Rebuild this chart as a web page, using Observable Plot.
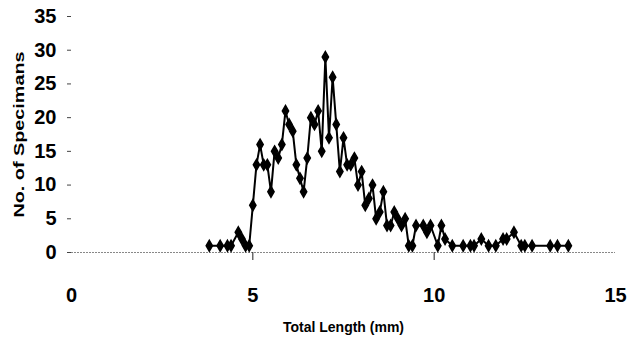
<!DOCTYPE html>
<html>
<head>
<meta charset="utf-8">
<script src="https://cdn.jsdelivr.net/npm/d3@7"></script>
<script src="https://cdn.jsdelivr.net/npm/@observablehq/plot@0.6"></script>
<style>
  html, body { margin: 0; padding: 0; background: #fff; }
  #chart { width: 633px; height: 347px; }
</style>
</head>
<body>
<div id="chart"></div>
<script>
// Total length (mm) of each size class
const lengths = [3.8, 4.1, 4.3, 4.4, 4.6, 4.7, 4.8, 4.9, 5.0, 5.1, 5.2, 5.3, 5.4, 5.5, 5.6, 5.7, 5.8, 5.9, 6.0, 6.1,
  6.2, 6.3, 6.4, 6.5, 6.6, 6.7, 6.8, 6.9, 7.0, 7.1, 7.2, 7.3, 7.4, 7.5, 7.6, 7.7, 7.8, 7.9, 8.0, 8.1,
  8.2, 8.3, 8.4, 8.5, 8.6, 8.7, 8.8, 8.9, 9.0, 9.1, 9.2, 9.3, 9.4, 9.5, 9.7, 9.8, 9.9, 10.1, 10.2, 10.3,
  10.5, 10.8, 11.0, 11.1, 11.3, 11.5, 11.7, 11.9, 12.0, 12.2, 12.4, 12.5, 12.7, 13.2, 13.4, 13.7];
// Number of specimens in each class
const counts = [1, 1, 1, 1, 3, 2, 1, 1, 7, 13, 16, 13, 13, 9, 15, 14, 16, 21, 19, 18,
  13, 11, 9, 14, 20, 19, 21, 15, 29, 17, 26, 19, 12, 17, 13, 13, 14, 10, 12, 7,
  8, 10, 5, 6, 9, 4, 4, 6, 5, 4, 5, 1, 1, 4, 4, 3, 4, 1, 4, 2,
  1, 1, 1, 1, 2, 1, 1, 2, 2, 3, 1, 1, 1, 1, 1, 1];
const xTicks = [0, 5, 10, 15];
const yTicks = [0, 5, 10, 15, 20, 25, 30, 35];
const xTitle = "Total Length (mm)";
const yTitle = "No. of Specimans";

const data = lengths.map((x, i) => ({x, y: counts[i]}));
const font = "'Liberation Sans Narrow', 'Liberation Sans', Arial, sans-serif";

const chart = Plot.plot({
  width: 633,
  height: 347,
  marginLeft: 71,
  marginRight: 18,
  marginTop: 16,
  marginBottom: 95,
  x: {domain: [0, 15]},
  y: {domain: [0, 35]},
  style: {fontFamily: font, background: "#fff", color: "#000"},
  marks: [
    Plot.ruleY([0], {x1: 0, x2: 15, stroke: "#888", strokeWidth: 1, strokeDasharray: "2,1"}),
    Plot.axisY({ticks: yTicks, tickSize: 4, tickPadding: 11, fontSize: 20, fontWeight: "bold", label: null, stroke: "#444"}),
    Plot.axisX({ticks: xTicks, tickSize: 0, tickPadding: 35, fontSize: 20, fontWeight: "bold", label: null}),
    Plot.axisX({ticks: [5, 10], tickSize: 8, text: null, label: null, stroke: "#222"}),
    Plot.line(data, {x: "x", y: "y", stroke: "#000", strokeWidth: 2}),
    Plot.dot(data, {x: "x", y: "y", symbol: "diamond", fill: "#000", stroke: "#000", r: 3.3}),
    Plot.text([xTitle], {frameAnchor: "bottom", dy: 79, fontSize: 14, fontWeight: "bold", fontFamily: font}),
    Plot.text([yTitle], {frameAnchor: "left", dx: -52, rotate: -90, textAnchor: "middle", fontSize: 15, fontWeight: "bold", fontFamily: "'Liberation Sans', Arial, sans-serif"})
  ]
});
// the scanned figure is stretched vertically: widen the rotated y title accordingly
d3.select(chart).selectAll("text")
  .filter(function() { return this.textContent === yTitle; })
  .attr("textLength", 166)
  .attr("lengthAdjust", "spacingAndGlyphs");
document.getElementById("chart").appendChild(chart);
</script>
</body>
</html>
